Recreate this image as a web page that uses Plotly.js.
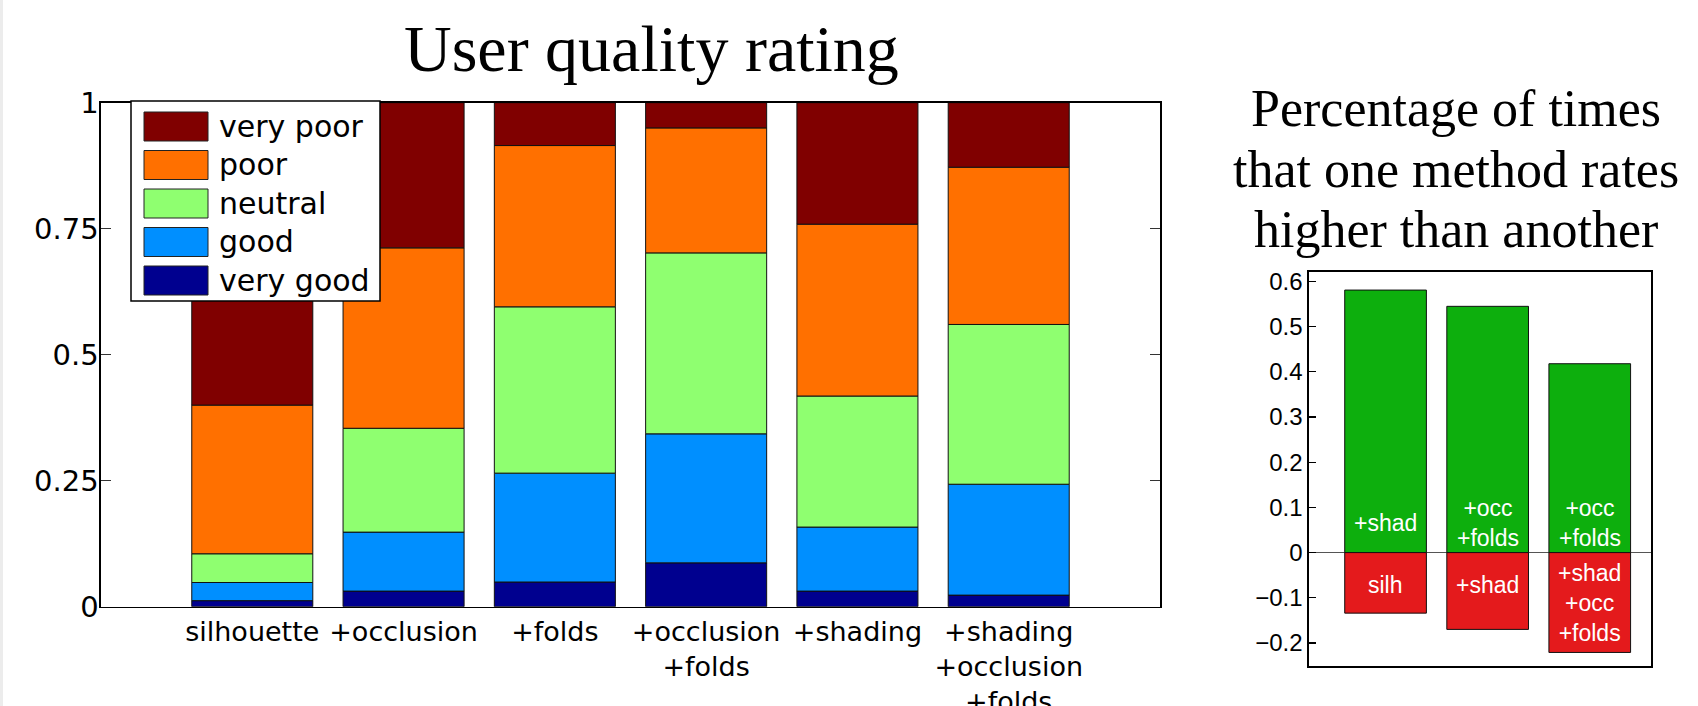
<!DOCTYPE html>
<html>
<head>
<meta charset="utf-8">
<script src="https://cdn.plot.ly/plotly-3.0.1.min.js"></script>
<style>
  html, body { margin: 0; padding: 0; background: #fff; }
  #chart { width: 1698px; height: 706px; }
</style>
</head>
<body>
<div id="chart"></div>
<script>
// ---------- Data ----------
const categories = ['silhouette', '+occlusion', '+folds', '+occlusion<br>+folds', '+shading', '+shading<br>+occlusion<br>+folds'];
const ratingNames = ['very good', 'good', 'neutral', 'poor', 'very poor'];
const veryGood = [0.012, 0.031, 0.049, 0.087, 0.031, 0.023];
const good     = [0.036, 0.117, 0.216, 0.256, 0.127, 0.220];
const neutral  = [0.057, 0.206, 0.330, 0.359, 0.260, 0.317];
const poor     = [0.295, 0.358, 0.320, 0.248, 0.341, 0.312];
const veryPoor = [0.600, 0.288, 0.085, 0.050, 0.241, 0.128];

const yTickVals = [0, 0.25, 0.5, 0.75, 1];
const yTickText = ['0', '0.25', '0.5', '0.75', '1'];

const winLabels  = ['+shad', '+occ<br>+folds', '+occ<br>+folds'];
const loseLabels = ['silh', '+shad', '+shad<br>+occ<br>+folds'];
const winRate  = [0.581, 0.545, 0.418];
const loseRate = [-0.134, -0.170, -0.221];

const leftTitle = 'User quality rating';
const rightTitleLines = ['Percentage of times', 'that one method rates', 'higher than another'];

// ---------- Styles / layout helpers ----------
const W = 1698, H = 706;
const px = v => v / W;
const py = v => 1 - v / H;
const ratingColors = ['#00008f', '#008fff', '#8fff70', '#ff7000', '#800000'];
const seriesValues = [veryGood, good, neutral, poor, veryPoor];
const sansL = 'DejaVu Sans, sans-serif';
const sansR = 'Liberation Sans, Arial, sans-serif';
const serif = 'Liberation Serif, Times New Roman, serif';

const xs = categories.map((_, i) => i + 1);
const xs2 = winRate.map((_, i) => i + 1);

const traces = seriesValues.map((vals, k) => ({
  type: 'bar', x: xs, y: vals, name: ratingNames[k],
  width: 0.8, xaxis: 'x', yaxis: 'y',
  marker: { color: ratingColors[k], line: { color: '#111', width: 1 } },
  showlegend: false, hoverinfo: 'skip'
}));
traces.push({
  type: 'bar', x: xs2, y: winRate, width: 0.8, xaxis: 'x2', yaxis: 'y2',
  marker: { color: '#0daf0d', line: { color: '#111', width: 1 } },
  showlegend: false, hoverinfo: 'skip'
});
traces.push({
  type: 'bar', x: xs2, y: loseRate, width: 0.8, xaxis: 'x2', yaxis: 'y2',
  marker: { color: '#e41a1c', line: { color: '#111', width: 1 } },
  showlegend: false, hoverinfo: 'skip'
});

// custom legend (wide swatches like the original)
const shapes = [
  { type: 'rect', xref: 'paper', yref: 'paper', x0: 0, x1: px(3), y0: 0, y1: 1,
    fillcolor: '#ececec', line: { width: 0 }, layer: 'below' },
  { type: 'rect', xref: 'paper', yref: 'paper', x0: px(131), x1: px(380), y0: py(301), y1: py(101),
    fillcolor: '#fff', line: { color: '#000', width: 1.5 }, layer: 'above' }
];
const annotations = [];
const legendOrder = [4, 3, 2, 1, 0];
legendOrder.forEach((k, row) => {
  const top = 112 + row * 38.5;
  shapes.push({ type: 'rect', xref: 'paper', yref: 'paper', x0: px(144), x1: px(208),
    y0: py(top + 29), y1: py(top), fillcolor: ratingColors[k],
    line: { color: '#222', width: 1 }, layer: 'above' });
  annotations.push({ xref: 'paper', yref: 'paper', x: px(217), y: py(top + 14.5),
    xanchor: 'left', yanchor: 'middle', showarrow: false, text: ratingNames[k],
    font: { family: sansL, size: 30, color: '#000' } });
});

// titles
annotations.push({ xref: 'paper', yref: 'paper', x: px(651), y: py(49), xanchor: 'center', yanchor: 'middle',
  showarrow: false, text: leftTitle, font: { family: serif, size: 66, color: '#000' } });
const rightTitleY = [108, 169, 229];
rightTitleLines.forEach((t, i) => annotations.push({ xref: 'paper', yref: 'paper', x: px(1456), y: py(rightTitleY[i]),
  xanchor: 'center', yanchor: 'middle', showarrow: false, text: t,
  font: { family: serif, size: 52, color: '#000' } }));

// labels inside right bars
const winLabelY = [0.066, 0.066, 0.066];
const loseLabelY = [-0.072, -0.072, -0.112];
winLabels.forEach((t, i) => annotations.push({ xref: 'x2', yref: 'y2', x: xs2[i], y: winLabelY[i],
  showarrow: false, text: t, xanchor: 'center', yanchor: 'middle',
  font: { family: sansR, size: 23, color: '#fff' } }));
loseLabels.forEach((t, i) => annotations.push({ xref: 'x2', yref: 'y2', x: xs2[i], y: loseLabelY[i],
  showarrow: false, text: t, xanchor: 'center', yanchor: 'middle',
  font: { family: sansR, size: 23, color: '#fff' } }));

const layout = {
  width: W, height: H,
  margin: { l: 0, r: 0, t: 0, b: 0, pad: 0 },
  paper_bgcolor: '#fff', plot_bgcolor: '#fff',
  barmode: 'relative', bargap: 0.2,
  showlegend: false,
  xaxis: {
    domain: [px(101), px(1160)], range: [0, 7], automargin: false,
    tickvals: xs, ticktext: categories, ticks: '', showgrid: false, zeroline: false,
    showline: true, linecolor: '#000', linewidth: 1.6, mirror: true,
    tickfont: { family: sansL, size: 27, color: '#000' }, fixedrange: true
  },
  yaxis: {
    domain: [1 - 606.7 / H, 1 - 102.7 / H], range: [0, 1], automargin: false,
    tickvals: yTickVals, ticktext: yTickText, ticks: 'inside', ticklen: 10, tickwidth: 1.2,
    tickcolor: '#333', showgrid: false, zeroline: false, ticklabelstandoff: -5,
    showline: true, linecolor: '#000', linewidth: 1.6, mirror: 'ticks',
    tickfont: { family: sansL, size: 29, color: '#000' }, fixedrange: true
  },
  xaxis2: {
    domain: [px(1309), px(1651)], range: [0.25, 3.6], anchor: 'y2', automargin: false,
    showticklabels: false, ticks: '', showgrid: false, zeroline: false,
    showline: true, linecolor: '#000', linewidth: 1.6, mirror: true, fixedrange: true
  },
  yaxis2: {
    domain: [1 - 666 / H, 1 - 272 / H], range: [-0.251, 0.621], anchor: 'x2', automargin: false,
    tick0: 0, dtick: 0.1, ticks: 'inside', ticklen: 7, tickwidth: 1.2, tickcolor: '#000',
    showgrid: false, zeroline: true, zerolinecolor: '#555', zerolinewidth: 1,
    showline: true, linecolor: '#000', linewidth: 1.6, mirror: true,
    tickfont: { family: sansR, size: 24, color: '#000' }, fixedrange: true
  },
  shapes: shapes,
  annotations: annotations
};

Plotly.newPlot('chart', traces, layout, { displayModeBar: false, staticPlot: true });
</script>
</body>
</html>
